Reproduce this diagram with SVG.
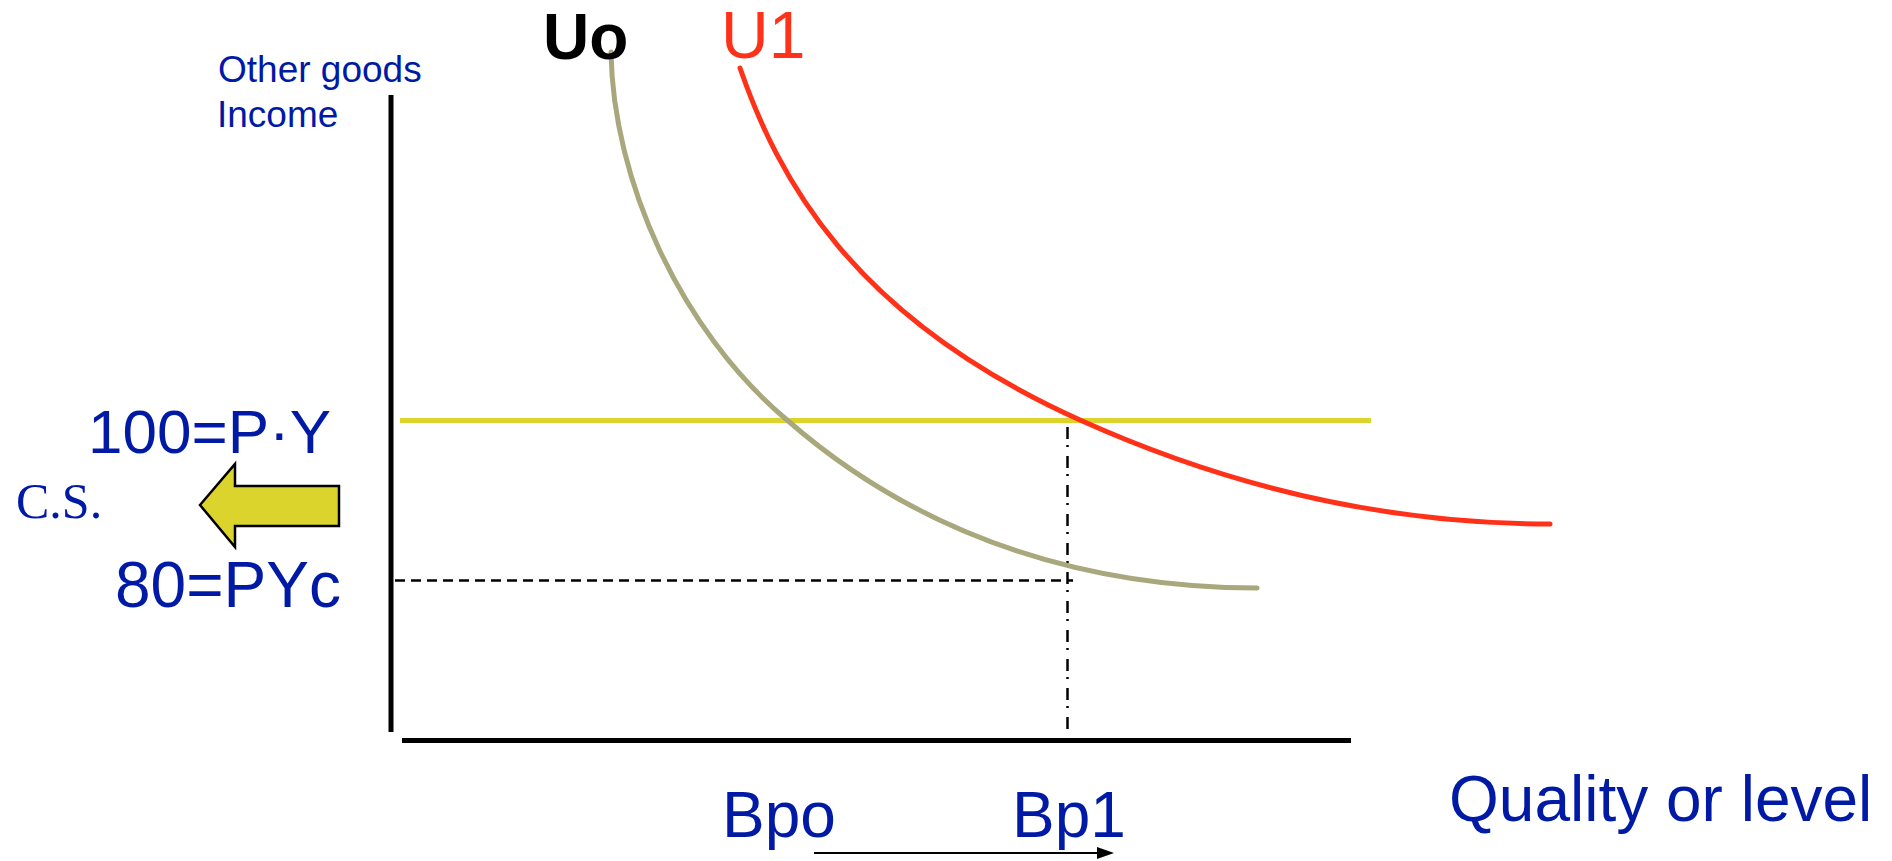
<svg xmlns="http://www.w3.org/2000/svg" width="1892" height="861" viewBox="0 0 1892 861">
<style>
  .blue { fill: #001AA6; font-family: "Liberation Sans", Arial, sans-serif; }
  .big { font-size: 64px; }
  .small { font-size: 37px; }
  .axis { stroke: #000; stroke-width: 5; fill: none; }
  .curve { fill: none; stroke-width: 5; stroke-linecap: round; }
</style>
<rect width="1892" height="861" fill="#fff"/>

<g id="axes">
  <line class="axis" x1="391" y1="95" x2="391" y2="732"/>
  <line class="axis" x1="402" y1="740.5" x2="1351" y2="740.5"/>
</g>

<g id="connectors">
  <line id="budget-line" x1="400" y1="420.5" x2="1371" y2="420.5" stroke="#DAD42C" stroke-width="5"/>
  <line id="pyc-line" x1="395" y1="580.5" x2="1073" y2="580.5" stroke="#000" stroke-width="2.5" stroke-dasharray="10 6"/>
  <line id="bp1-line" x1="1067.5" y1="427" x2="1067.5" y2="732" stroke="#000" stroke-width="2.5" stroke-dasharray="12 6 2 9"/>
  <path id="curve-uo" class="curve" stroke="#A9A77C" d="M611,52 C613,180 680,330 787,420 C930,545 1100,588 1257,588"/>
  <path id="curve-u1" class="curve" stroke="#FF3219" d="M740,68 C777.4,175.8 850,316.5 1080,420 C1240,492 1400,524 1550,524"/>
  <g id="bp-arrow">
    <line x1="814" y1="853" x2="1100" y2="853" stroke="#000" stroke-width="2"/>
    <polygon points="1097,847 1114,853 1097,859" fill="#000"/>
  </g>
</g>

<g id="cs-arrow">
  <polygon points="200,505 235,464 235,486 339,486 339,526 235,526 235,547" fill="#DAD42C" stroke="#000" stroke-width="2.5" stroke-linejoin="miter"/>
</g>

<g id="label-yaxis">
  <text class="blue small" x="218" y="82">Other goods</text>
  <text class="blue small" x="217" y="127">Income</text>
</g>
<g id="label-uo">
  <text x="543" y="59" font-family="Liberation Sans, Arial, sans-serif" font-weight="bold" font-size="64" fill="#000">Uo</text>
</g>
<g id="label-u1">
  <text x="721" y="58" font-family="Liberation Sans, Arial, sans-serif" font-size="66" fill="#FF3219">U1</text>
</g>
<g id="label-100">
  <text class="blue" font-size="62" x="331" y="453" text-anchor="end">100=P·Y</text>
</g>
<g id="label-cs">
  <text x="16" y="518" font-family="Liberation Serif, 'Times New Roman', serif" font-size="50" fill="#001AA6">C.S.</text>
</g>
<g id="label-80">
  <text class="blue big" x="115" y="607">80=PYc</text>
</g>
<g id="label-bpo">
  <text class="blue big" x="722" y="837">Bpo</text>
</g>
<g id="label-bp1">
  <text class="blue big" x="1012" y="837">Bp1</text>
</g>
<g id="label-xaxis">
  <text class="blue big" x="1449" y="821">Quality or level</text>
</g>
</svg>
